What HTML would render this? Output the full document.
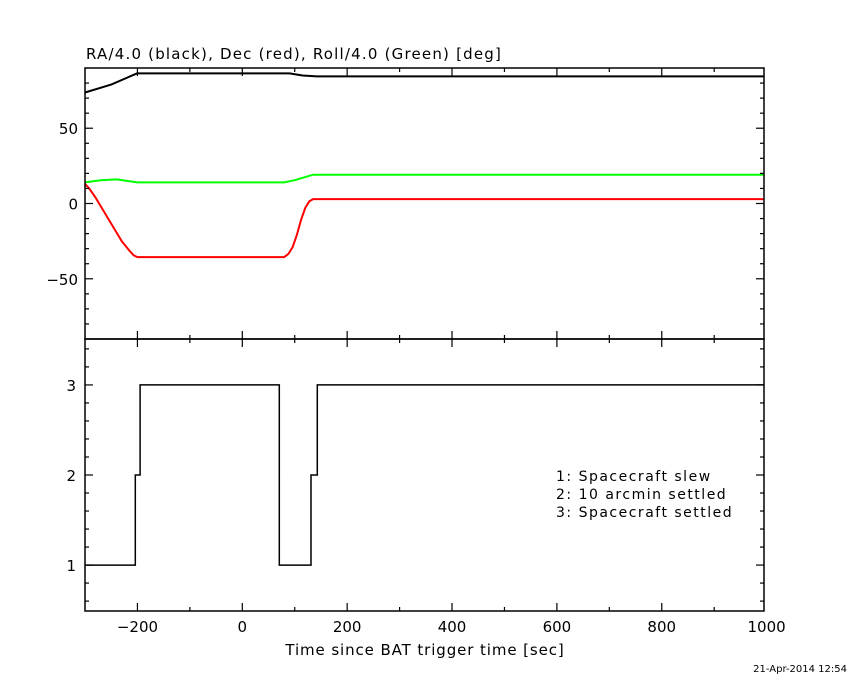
<!DOCTYPE html>
<html><head><meta charset="utf-8"><style>
html,body{margin:0;padding:0;background:#fff;width:850px;height:680px;overflow:hidden}
svg text{font-family:"DejaVu Sans","Liberation Sans",sans-serif;fill:#000}
</style></head><body>
<svg id="chart" width="850" height="680" viewBox="0 0 850 680" xmlns="http://www.w3.org/2000/svg">
<rect width="850" height="680" fill="#fff"/>
<text x="86" y="59" font-size="15" letter-spacing="1.2">RA/4.0 (black), Dec (red), Roll/4.0 (Green) [deg]</text>
<text x="425" y="655" font-size="15" letter-spacing="0.9" text-anchor="middle">Time since BAT trigger time [sec]</text>
<text x="847" y="672" font-size="10" text-anchor="end">21-Apr-2014 12:54</text>
<g font-size="14" letter-spacing="1.5">
<text x="556" y="481">1: Spacecraft slew</text>
<text x="556" y="499">2: 10 arcmin settled</text>
<text x="556" y="517">3: Spacecraft settled</text>
</g>
<g id="marks"></g>
<g id="axes"></g>
</svg>
<script>
const xTicks=[-200,0,200,400,600,800,1000];
const topTicks=[-50,0,50];
const botTicks=[1,2,3];
const raT=[-300,-250,-201,90,115,142,995];
const raV=[73.7,79,86.4,86.4,85,84.4,84.4];
const rollT=[-300,-270,-240,-200,80,100,135,995];
const rollV=[14,15.5,16,14,14,15.5,19.1,19.1];
const decT=[-300,-292,-280,-230,-215,-207,-200,80,88,96,104,112,120,128,135,995];
const decV=[13,10,4,-25,-31.5,-34.5,-35.6,-35.6,-33.5,-29,-21,-11,-3,1.5,2.9,2.9];
const stepT=[-300,-204,-195,70.5,131,143,995];
const stepV=[1,2,3,1,2,3,3];
const L=85,R=764,T=68,M=339,B=611;
const X0=-300,X1=995;
const sx=t=>L+(t-X0)*(R-L)/(X1-X0);
const syTop=v=>T+(90-v)*(M-T)/180;
const syBot=v=>M+(3.51-v)*(B-M)/3.02;
const NS='http://www.w3.org/2000/svg';
const marks=document.getElementById('marks'),axes=document.getElementById('axes');
function mk(tag,attrs,parent){const e=document.createElementNS(NS,tag);for(const k in attrs)e.setAttribute(k,attrs[k]);parent.appendChild(e);return e;}
function line(ts,vs,sy,color,name){
  const d=ts.map((t,i)=>(i?'L':'M')+sx(t).toFixed(1)+' '+sy(vs[i]).toFixed(1)).join(' ');
  const p=mk('path',{d:d,fill:'none',stroke:color,'stroke-width':2,'stroke-linejoin':'round'},marks);
  
  
}
line(raT,raV,syTop,'#000','ra-line');
line(rollT,rollV,syTop,'#00ff00','roll-line');
line(decT,decV,syTop,'#ff0000','dec-line');
let sd='M'+sx(stepT[0])+' '+syBot(stepV[0]);
for(let i=1;i<stepT.length;i++){sd+=' L'+sx(stepT[i]).toFixed(1)+' '+syBot(stepV[i-1]).toFixed(1)+' L'+sx(stepT[i]).toFixed(1)+' '+syBot(stepV[i]).toFixed(1);}
const sp=mk('path',{d:sd,fill:'none',stroke:'#000','stroke-width':1.5},marks);


const f1=mk('rect',{x:L,y:T,width:R-L,height:M-T,fill:'none',stroke:'#000','stroke-width':1.5},axes);


const f2=mk('rect',{x:L,y:M,width:R-L,height:B-M,fill:'none',stroke:'#000','stroke-width':1.5},axes);


function tick(x1,y1,x2,y2){mk('line',{x1:x1,y1:y1,x2:x2,y2:y2,stroke:'#000','stroke-width':1.2},axes);}
for(let t=-200;t<=995;t+=100){
  const x=sx(t),len=(t%200===0)?8:4;
  [T,M,B].forEach(y=>{ if(y!==T) tick(x,y,x,y-len); if(y!==B) tick(x,y,x,y+len); });
}
for(let v=-80;v<=80;v+=10){const y=syTop(v),len=(v%50===0)?8:4;tick(L,y,L+len,y);tick(R,y,R-len,y);}
for(let k=3;k<=17;k++){const v=k/5;const y=syBot(v),len=(k%5===0)?8:4;tick(L,y,L+len,y);tick(R,y,R-len,y);}
xTicks.forEach(t=>{const e=mk('text',{x:sx(t),y:632,'font-size':15,'text-anchor':'middle'},axes);e.textContent=(t<0?'\u2212'+(-t):t);

});
topTicks.forEach(v=>{const e=mk('text',{x:78,y:syTop(v)+6,'font-size':15,'text-anchor':'end'},axes);e.textContent=(v<0?'\u2212'+(-v):v);

});
botTicks.forEach(v=>{const e=mk('text',{x:76,y:syBot(v)+6,'font-size':15,'text-anchor':'end'},axes);e.textContent=v;

});
</script>
</body></html>
